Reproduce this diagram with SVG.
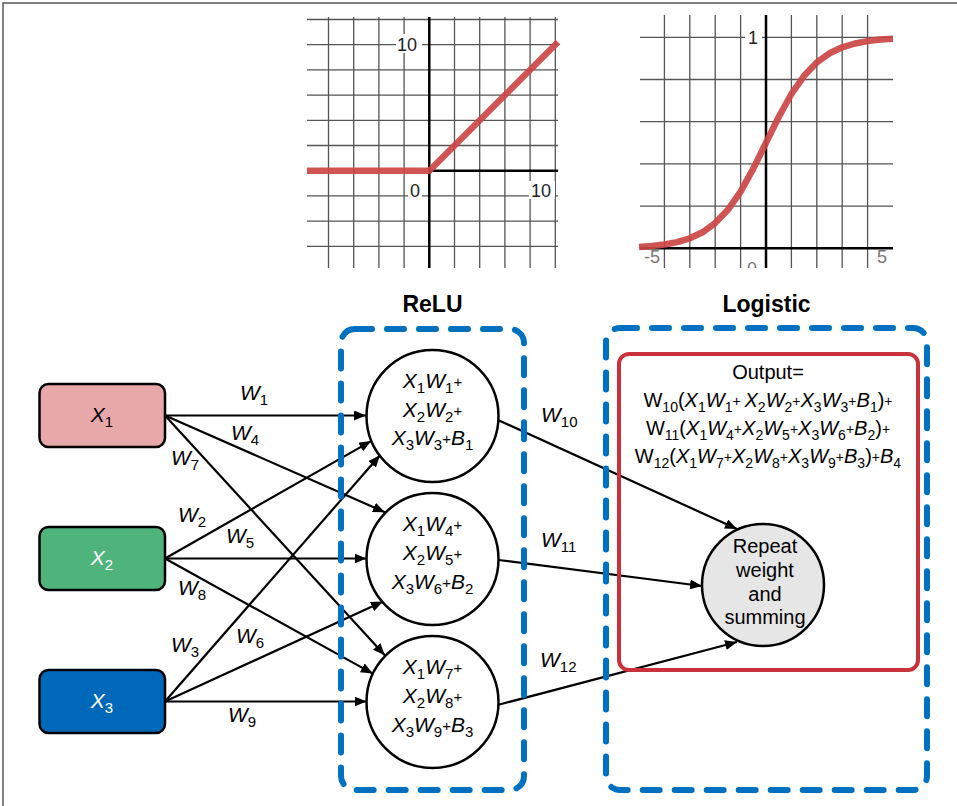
<svg xmlns="http://www.w3.org/2000/svg" width="957" height="806" viewBox="0 0 957 806">
<defs>
<marker id="arr" markerUnits="userSpaceOnUse" viewBox="0 0 12 10" markerWidth="12" markerHeight="10" refX="12" refY="5" orient="auto">
<path d="M0,0 L12,5 L0,10 z" fill="#000"/>
</marker>
<clipPath id="gclip"><rect x="0" y="0" width="957" height="268"/></clipPath>
<style>
.t{font-family:"Liberation Sans",Arial,sans-serif;font-size:21px;fill:#000}
.o{font-size:20px}
.w{fill:#fff}
.i{font-style:italic}
.s{font-size:15px}
.o .s{font-size:14px}
.p{font-size:15px}
.o .p{font-size:14px}
.grid{stroke:#555;stroke-width:1.3;fill:none}
.axis{stroke:#000;stroke-width:2.5;fill:none}
.curve{stroke:#cc4545;stroke-width:6.5;fill:none;stroke-linejoin:round;opacity:0.92}
.gl{font-family:"Liberation Sans",Arial,sans-serif;font-size:18px;fill:#222}
.gl2{font-family:"Liberation Sans",Arial,sans-serif;font-size:18px;fill:#777}
.edge{stroke:#000;stroke-width:2.2;fill:none;marker-end:url(#arr)}
.box{stroke:#000;stroke-width:2.5}
.circ{fill:#fff;stroke:#000;stroke-width:2.5}
.dash{fill:none;stroke:#0070c0;stroke-width:6;stroke-dasharray:17 15;stroke-linecap:round}
.title{font-family:"Liberation Sans",Arial,sans-serif;font-size:23px;font-weight:bold;fill:#000}
</style>
</defs>
<rect width="957" height="806" fill="#fff"/>
<path d="M3,806 V3 H957" fill="none" stroke="#555" stroke-width="1.5"/>

<!-- ReLU graph -->
<g id="relu-graph" clip-path="url(#gclip)">
<path class="grid" d="M328.5,17V268 M353.7,17V268 M378.9,17V268 M404.1,17V268 M454.5,17V268 M479.7,17V268 M504.9,17V268 M530.1,17V268 M555.3,17V268 M307,19.5H558 M307,44.7H558 M307,69.9H558 M307,95.1H558 M307,120.3H558 M307,145.5H558 M307,195.9H558 M307,221.1H558 M307,246.3H558"/>
<path class="axis" d="M429.3,17V268 M429.3,170.7H558"/>
<rect x="396" y="34" width="26" height="19" fill="#fff"/>
<text class="gl" x="397" y="51">10</text>
<rect x="408" y="181" width="14" height="18" fill="#fff"/>
<text class="gl" x="410" y="197">0</text>
<rect x="529" y="181" width="26" height="18" fill="#fff"/>
<text class="gl" x="531" y="197">10</text>
<path class="curve" d="M307,170.7 H429.3 L558,42"/>
</g>

<!-- Logistic graph -->
<g id="logistic-graph" clip-path="url(#gclip)">
<path class="grid" d="M664.4,15V268 M689.8,15V268 M715.2,15V268 M740.6,15V268 M791.4,15V268 M816.8,15V268 M842.2,15V268 M867.6,15V268 M640,206.1H893 M640,163.9H893 M640,121.7H893 M640,79.5H893 M640,37.3H893"/>
<path class="axis" d="M766,15V268 M640,248.3H893"/>
<rect x="745" y="28" width="17" height="19" fill="#fff"/>
<text class="gl" x="748" y="44">1</text>
<text class="gl2" x="644" y="263">-5</text>
<text class="gl2" x="877" y="263">5</text>
<text class="gl2" x="747" y="275">0</text>
<path class="curve" d="M639,246.9 L651.7,246 L664.4,244.5 L677.1,242.1 L689.8,238.3 L702.5,232.3 L715.2,223.1 L727.9,209.8 L740.6,191.6 L753.3,168.6 L766,142.8 L778.7,117 L791.4,94 L804.1,75.8 L816.8,62.4 L829.5,53.3 L842.2,47.3 L854.9,43.5 L867.6,41.1 L880.3,39.6 L893,38.7"/>
</g>

<!-- Input nodes -->
<g id="x1">
<rect class="box" x="39.5" y="384" width="125.5" height="63" rx="9" fill="#e8a7a9"/>
<text class="t" x="102" y="422" text-anchor="middle"><tspan class="i">X</tspan><tspan class="s" dy="5">1</tspan></text>
</g>
<g id="x2">
<rect class="box" x="39.5" y="527" width="125.5" height="63" rx="9" fill="#4fb47c"/>
<text class="t w" x="102" y="565" text-anchor="middle"><tspan class="i">X</tspan><tspan class="s" dy="5">2</tspan></text>
</g>
<g id="x3">
<rect class="box" x="39.5" y="670" width="125.5" height="63" rx="9" fill="#0068b8"/>
<text class="t w" x="102" y="708" text-anchor="middle"><tspan class="i">X</tspan><tspan class="s" dy="5">3</tspan></text>
</g>

<!-- Hidden nodes -->
<g id="n1">
<circle class="circ" cx="432.5" cy="416" r="66"/>
<text class="t" x="432.5" y="388" text-anchor="middle"><tspan class="i">X</tspan><tspan class="s" dy="5">1</tspan><tspan class="i" dy="-5">W</tspan><tspan class="s" dy="5">1</tspan><tspan class="p" dy="-6">+</tspan></text>
<text class="t" x="432.5" y="416.5" text-anchor="middle"><tspan class="i">X</tspan><tspan class="s" dy="5">2</tspan><tspan class="i" dy="-5">W</tspan><tspan class="s" dy="5">2</tspan><tspan class="p" dy="-6">+</tspan></text>
<text class="t" x="432.5" y="445" text-anchor="middle"><tspan class="i">X</tspan><tspan class="s" dy="5">3</tspan><tspan class="i" dy="-5">W</tspan><tspan class="s" dy="5">3</tspan><tspan class="p" dy="-6">+</tspan><tspan class="i" dy="1">B</tspan><tspan class="s" dy="5">1</tspan></text>
</g>
<g id="n2">
<circle class="circ" cx="432.5" cy="559" r="66"/>
<text class="t" x="432.5" y="531" text-anchor="middle"><tspan class="i">X</tspan><tspan class="s" dy="5">1</tspan><tspan class="i" dy="-5">W</tspan><tspan class="s" dy="5">4</tspan><tspan class="p" dy="-6">+</tspan></text>
<text class="t" x="432.5" y="560" text-anchor="middle"><tspan class="i">X</tspan><tspan class="s" dy="5">2</tspan><tspan class="i" dy="-5">W</tspan><tspan class="s" dy="5">5</tspan><tspan class="p" dy="-6">+</tspan></text>
<text class="t" x="432.5" y="588.5" text-anchor="middle"><tspan class="i">X</tspan><tspan class="s" dy="5">3</tspan><tspan class="i" dy="-5">W</tspan><tspan class="s" dy="5">6</tspan><tspan class="p" dy="-6">+</tspan><tspan class="i" dy="1">B</tspan><tspan class="s" dy="5">2</tspan></text>
</g>
<g id="n3">
<circle class="circ" cx="432.5" cy="702" r="66"/>
<text class="t" x="432.5" y="674" text-anchor="middle"><tspan class="i">X</tspan><tspan class="s" dy="5">1</tspan><tspan class="i" dy="-5">W</tspan><tspan class="s" dy="5">7</tspan><tspan class="p" dy="-6">+</tspan></text>
<text class="t" x="432.5" y="703" text-anchor="middle"><tspan class="i">X</tspan><tspan class="s" dy="5">2</tspan><tspan class="i" dy="-5">W</tspan><tspan class="s" dy="5">8</tspan><tspan class="p" dy="-6">+</tspan></text>
<text class="t" x="432.5" y="731.5" text-anchor="middle"><tspan class="i">X</tspan><tspan class="s" dy="5">3</tspan><tspan class="i" dy="-5">W</tspan><tspan class="s" dy="5">9</tspan><tspan class="p" dy="-6">+</tspan><tspan class="i" dy="1">B</tspan><tspan class="s" dy="5">3</tspan></text>
</g>

<!-- Output node -->
<g id="repeat">
<circle cx="763" cy="585" r="61" fill="#e6e6e6" stroke="#000" stroke-width="2.5"/>
<text class="t" style="font-size:20px" text-anchor="middle"><tspan x="765" y="553">Repeat</tspan><tspan x="765" y="577">weight</tspan><tspan x="765" y="601">and</tspan><tspan x="765" y="624">summing</tspan></text>
</g>

<!-- Connectors -->
<g id="connectors">
<path class="edge" d="M165,415.5 L366,415.5"/>
<path class="edge" d="M165,415.5 L384.9,512.2"/>
<path class="edge" d="M165,415.5 L384.8,655.2"/>
<path class="edge" d="M165,558.5 L371.1,441.1"/>
<path class="edge" d="M165,558.5 L366.5,558.5"/>
<path class="edge" d="M165,558.5 L372.8,673.6"/>
<path class="edge" d="M165,701.5 L380,455.3"/>
<path class="edge" d="M165,701.5 L383,601.6"/>
<path class="edge" d="M165,701.5 L366.5,701.5"/>
<path class="edge" d="M498,420 L737,529"/>
<path class="edge" d="M498.5,560 L702,586"/>
<path class="edge" d="M497.5,705 L737,642"/>
</g>

<!-- Weight labels -->
<g id="weights">
<text class="t" x="240" y="400"><tspan class="i">W</tspan><tspan class="s" dy="5">1</tspan></text>
<text class="t" x="231" y="440"><tspan class="i">W</tspan><tspan class="s" dy="5">4</tspan></text>
<text class="t" x="171" y="465"><tspan class="i">W</tspan><tspan class="s" dy="5">7</tspan></text>
<text class="t" x="178" y="522"><tspan class="i">W</tspan><tspan class="s" dy="5">2</tspan></text>
<text class="t" x="226" y="543"><tspan class="i">W</tspan><tspan class="s" dy="5">5</tspan></text>
<text class="t" x="178" y="595"><tspan class="i">W</tspan><tspan class="s" dy="5">8</tspan></text>
<text class="t" x="171" y="652"><tspan class="i">W</tspan><tspan class="s" dy="5">3</tspan></text>
<text class="t" x="236" y="643"><tspan class="i">W</tspan><tspan class="s" dy="5">6</tspan></text>
<text class="t" x="228" y="722"><tspan class="i">W</tspan><tspan class="s" dy="5">9</tspan></text>
<text class="t" x="541" y="422"><tspan class="i">W</tspan><tspan class="s" dy="5">10</tspan></text>
<text class="t" x="541" y="547"><tspan class="i">W</tspan><tspan class="s" dy="5">11</tspan></text>
<text class="t" x="540" y="667"><tspan class="i">W</tspan><tspan class="s" dy="5">12</tspan></text>
</g>

<!-- Layer boxes -->
<g id="relu-layer">
<rect class="dash" x="341" y="329" width="183" height="461" rx="14"/>
<text class="title" x="432.5" y="312" text-anchor="middle">ReLU</text>
</g>
<g id="logistic-layer">
<rect class="dash" x="606" y="328" width="321" height="462" rx="14"/>
<text class="title" x="766.5" y="312" text-anchor="middle">Logistic</text>
</g>

<!-- Output formula box -->
<g id="output">
<rect x="619" y="354" width="299" height="316" rx="10" fill="none" stroke="#c8323c" stroke-width="4"/>
<text class="t o" x="768" y="379" text-anchor="middle">Output=</text>
<text class="t o" x="768" y="407" text-anchor="middle">W<tspan class="s" dy="5">10</tspan><tspan dy="-5">(</tspan><tspan class="i">X</tspan><tspan class="s" dy="5">1</tspan><tspan class="i" dy="-5">W</tspan><tspan class="s" dy="5">1</tspan><tspan class="p" dy="-6">+ </tspan><tspan class="i" dy="1">X</tspan><tspan class="s" dy="5">2</tspan><tspan class="i" dy="-5">W</tspan><tspan class="s" dy="5">2</tspan><tspan class="p" dy="-6">+</tspan><tspan class="i" dy="1">X</tspan><tspan class="s" dy="5">3</tspan><tspan class="i" dy="-5">W</tspan><tspan class="s" dy="5">3</tspan><tspan class="p" dy="-6">+</tspan><tspan class="i" dy="1">B</tspan><tspan class="s" dy="5">1</tspan><tspan dy="-5">)</tspan><tspan class="p" dy="-1">+</tspan></text>
<text class="t o" x="768" y="435" text-anchor="middle">W<tspan class="s" dy="5">11</tspan><tspan dy="-5">(</tspan><tspan class="i">X</tspan><tspan class="s" dy="5">1</tspan><tspan class="i" dy="-5">W</tspan><tspan class="s" dy="5">4</tspan><tspan class="p" dy="-6">+</tspan><tspan class="i" dy="1">X</tspan><tspan class="s" dy="5">2</tspan><tspan class="i" dy="-5">W</tspan><tspan class="s" dy="5">5</tspan><tspan class="p" dy="-6">+</tspan><tspan class="i" dy="1">X</tspan><tspan class="s" dy="5">3</tspan><tspan class="i" dy="-5">W</tspan><tspan class="s" dy="5">6</tspan><tspan class="p" dy="-6">+</tspan><tspan class="i" dy="1">B</tspan><tspan class="s" dy="5">2</tspan><tspan dy="-5">)</tspan><tspan class="p" dy="-1">+</tspan></text>
<text class="t o" x="768" y="463" text-anchor="middle">W<tspan class="s" dy="5">12</tspan><tspan dy="-5">(</tspan><tspan class="i">X</tspan><tspan class="s" dy="5">1</tspan><tspan class="i" dy="-5">W</tspan><tspan class="s" dy="5">7</tspan><tspan class="p" dy="-6">+</tspan><tspan class="i" dy="1">X</tspan><tspan class="s" dy="5">2</tspan><tspan class="i" dy="-5">W</tspan><tspan class="s" dy="5">8</tspan><tspan class="p" dy="-6">+</tspan><tspan class="i" dy="1">X</tspan><tspan class="s" dy="5">3</tspan><tspan class="i" dy="-5">W</tspan><tspan class="s" dy="5">9</tspan><tspan class="p" dy="-6">+</tspan><tspan class="i" dy="1">B</tspan><tspan class="s" dy="5">3</tspan><tspan dy="-5">)</tspan><tspan class="p" dy="-1">+</tspan><tspan class="i" dy="1">B</tspan><tspan class="s" dy="5">4</tspan></text>
</g>
</svg>
